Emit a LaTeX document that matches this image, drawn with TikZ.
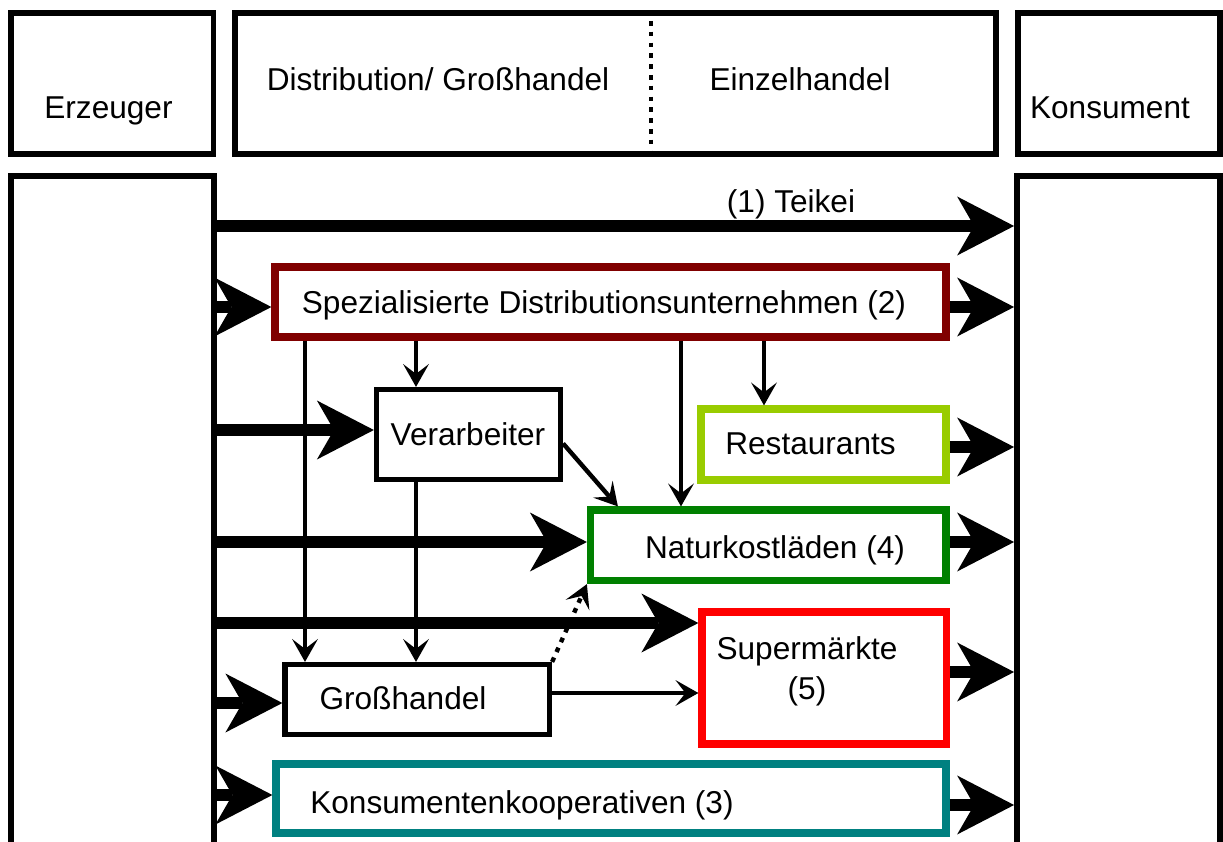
\documentclass[tikz,border=0pt]{standalone}
\usepackage{fontspec}
\setmainfont{Liberation Sans}
\usetikzlibrary{arrows.meta,calc}
\definecolor{cdarkred}{RGB}{128,0,0}
\definecolor{cyellowgreen}{RGB}{153,204,0}
\definecolor{cgreen}{RGB}{0,128,0}
\definecolor{cred}{RGB}{255,0,0}
\definecolor{cteal}{RGB}{0,128,128}
\begin{document}
\begin{tikzpicture}[x=0.5pt,y=-0.5pt,
  every node/.style={font=\fontsize{15.8pt}{20pt}\selectfont},
  frame/.style={draw, line width=2.9pt, inner sep=0pt},
  cbox/.style={draw=#1, line width=3.6pt, inner sep=0pt},
  bbox/.style={draw, line width=2.6pt, inner sep=0pt},
  txt/.style={anchor=base, inner sep=0pt},
  bigarrow/.style={line width=6pt, -{Stealth[length=28.5pt, width=29.5pt, inset=8.5pt, line width=0pt]}},
  thinarrow/.style={line width=2.2pt, -{Stealth[length=11.5pt, width=13pt, inset=5pt, line width=0pt]}},
  dotarrow/.style={thinarrow, dash pattern=on 2.4pt off 3pt},
]
\useasboundingbox (0,0) rectangle (1223,842);
\clip (0,0) rectangle (1223,842);
\fill[white] (0,0) rectangle (1223,842);

% header boxes
\node[frame, minimum width=101.25pt, minimum height=70.5pt] (erzhead) at (112.25,83.5) {};
\node[frame, minimum width=380.5pt, minimum height=70.5pt] (midhead) at (615.5,83.5) {};
\node[frame, minimum width=101pt, minimum height=70.5pt] (konhead) at (1119,83.5) {};
\coordinate (xdiv) at (651,0);
\draw[line width=2.2pt, dash pattern=on 2.3pt off 3.1pt] (midhead.north -| xdiv) -- (midhead.south -| xdiv);

\node[txt] (terz) at (108.5,118) {Erzeuger};
\node[txt] (tdist) at (438,90) {Distribution/ Großhandel};
\node[txt] (teinz) at (800,90) {Einzelhandel};
\node[txt] (tkons) at (1110,118) {Konsument};

% columns (open at the bottom)
\node[frame, minimum width=101.5pt, minimum height=362pt] (erzcol) at (112.5,538) {};
\node[frame, minimum width=101.5pt, minimum height=362pt] (koncol) at (1118.5,538) {};

% boxes
\node[cbox=cdarkred, minimum width=335.5pt, minimum height=35pt] (spez) at (610.5,302) {};
\node[bbox, minimum width=92pt, minimum height=45pt] (verarb) at (468.5,434.5) {};
\node[cbox=cyellowgreen, minimum width=122.5pt, minimum height=35.5pt] (rest) at (823.5,444.5) {};
\node[cbox=cgreen, minimum width=177.75pt, minimum height=35.25pt] (natur) at (768.25,545.25) {};
\node[cbox=cred, minimum width=122.25pt, minimum height=66pt] (super) at (824.25,678) {};
\node[bbox, minimum width=132.25pt, minimum height=35pt] (gross) at (417.25,699.5) {};
\node[cbox=cteal, minimum width=335pt, minimum height=34.5pt] (konsum) at (611,798.5) {};

% box texts
\node[txt] (tspez) at (604,313) {Spezialisierte Distributionsunternehmen (2)};
\node[txt] (tverarb) at (468,445) {Verarbeiter};
\node[txt] (trest) at (810.5,454) {Restaurants};
\node[txt] (tnatur) at (775,558) {Naturkostläden (4)};
\node[txt] (tsuper) at (807,659) {Supermärkte};
\node[txt] (tsuperb) at (807,699) {(5)};
\node[txt] (tgross) at (403,709) {Großhandel};
\node[txt] (tkonsum) at (522,813) {Konsumentenkooperativen (3)};
\node[txt] (tteikei) at (791,212) {(1) Teikei};

% helper heights and positions
\coordinate (y226) at (0,226);
\coordinate (y307) at (0,307);
\coordinate (y430) at (0,430);
\coordinate (y447) at (0,447);
\coordinate (y542) at (0,542);
\coordinate (y623) at (0,623);
\coordinate (y672) at (0,672);
\coordinate (y693) at (0,693);
\coordinate (y703) at (0,703);
\coordinate (y795) at (0,795);
\coordinate (y805) at (0,805);
\coordinate (x305) at (305,0);
\coordinate (x416) at (416,0);
\coordinate (x681) at (681,0);
\coordinate (x764) at (764,0);

% thick arrows: Erzeuger -> ...
\draw[bigarrow] (erzcol.east |- y226) -- (koncol.west |- y226);
\draw[bigarrow] (erzcol.east |- y307) -- (spez.west |- y307);
\draw[bigarrow] (erzcol.east |- y430) -- (verarb.west |- y430);
\draw[bigarrow] (erzcol.east |- y542) -- (natur.west |- y542);
\draw[bigarrow] (erzcol.east |- y623) -- (super.west |- y623);
\draw[bigarrow] (erzcol.east |- y703) -- (gross.west |- y703);
\draw[bigarrow] (erzcol.east |- y795) -- (konsum.west |- y795);

% thick arrows: ... -> Konsument
\draw[bigarrow] (spez.east |- y307) -- (koncol.west |- y307);
\draw[bigarrow] (rest.east |- y447) -- (koncol.west |- y447);
\draw[bigarrow] (natur.east |- y542) -- (koncol.west |- y542);
\draw[bigarrow] (super.east |- y672) -- (koncol.west |- y672);
\draw[bigarrow] (konsum.east |- y805) -- (koncol.west |- y805);

% thin arrows
\draw[thinarrow] (spez.south -| x305) -- (gross.north -| x305);
\draw[thinarrow] (spez.south -| x416) -- (verarb.north -| x416);
\draw[thinarrow] (verarb.south -| x416) -- (gross.north -| x416);
\draw[thinarrow] (spez.south -| x681) -- (natur.north -| x681);
\draw[thinarrow] (spez.south -| x764) -- (rest.north -| x764);
\draw[thinarrow] ($(verarb.east)+(0,9)$) -- ($(natur.north west)+(31,0)$);
\draw[thinarrow] (gross.east |- y693) -- (super.west |- y693);
\draw[dotarrow] (gross.north east) -- (natur.south west);
\end{tikzpicture}
\end{document}
